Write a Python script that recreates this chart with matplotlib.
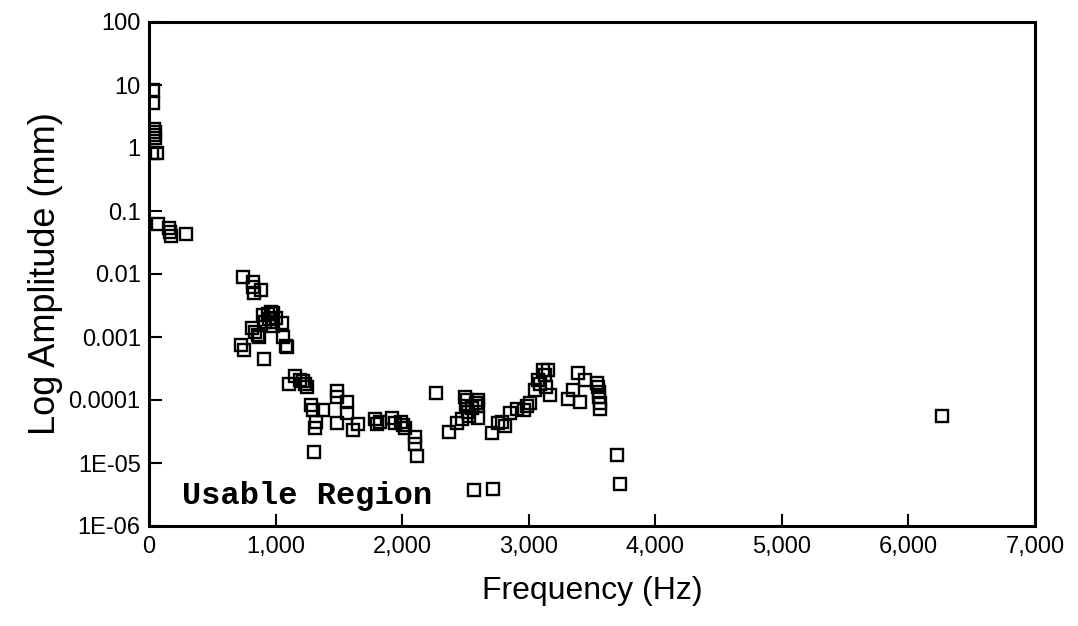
import matplotlib
matplotlib.use("Agg")
import matplotlib.pyplot as plt
from matplotlib.ticker import FixedLocator, FixedFormatter

plt.rcParams['font.family'] = ['Liberation Sans', 'DejaVu Sans']

# Frequency (Hz) and amplitude (mm)
freq_hz = [
    30, 30, 40, 45, 40, 45, 25, 60,
    70, 160, 165, 170, 290,
    743, 822, 822, 830, 885,
    900, 940, 960, 980, 916, 972, 980, 950, 1000,
    1050, 814, 837, 861, 870, 1059, 1090, 1085,
    727, 750, 908,
    1106, 1153, 1193, 1216, 1232, 1248,
    1280, 1296, 1375, 1319, 1311, 1303,
    1485, 1485, 1564, 1564, 1485, 1611, 1651,
    1785, 1801, 1825, 1920, 1943, 2007, 2022, 1990,
    2101, 2101, 2117,
    2267, 2370, 2433, 2473, 2496, 2510, 2505, 2520, 2530, 2550, 2600, 2600, 2600, 2580,
    2567, 2717,
    2710, 2757, 2812, 2790, 2852, 2907, 2960, 2986, 3010,
    3050, 3073, 3090, 3113, 3152, 3130, 3168, 3140,
    3389, 3444, 3350, 3310, 3405, 3539, 3550, 3555, 3555, 3563, 3563,
    3697, 3721, 6265,
]
amp_mm = [
    8.3, 5.2, 2.0, 1.8, 1.6, 1.45, 0.83, 0.83,
    0.062, 0.054, 0.046, 0.040, 0.043,
    0.0089, 0.0074, 0.0062, 0.0050, 0.0056,
    0.0022, 0.0023, 0.0025, 0.0024, 0.0017, 0.0017, 0.0015, 0.0019, 0.0020,
    0.00165, 0.00138, 0.0012, 0.00107, 0.0010, 0.0010, 0.00069, 0.00072,
    0.00074, 0.00062, 0.00045,
    0.000178, 0.00024, 0.00021, 0.00020, 0.000178, 0.00016,
    0.000083, 0.000069, 0.000069, 0.000045, 0.000036, 0.0000148,
    0.000138, 0.000112, 0.000093, 0.000062, 0.000043, 0.000033, 0.000042,
    0.000050, 0.000042, 0.000045, 0.000052, 0.000043, 0.000040, 0.000036, 0.000045,
    0.000026, 0.000020, 0.000013,
    0.000128, 0.000031, 0.000043, 0.000050, 0.000112, 0.00010, 0.000080, 0.000065, 0.000055, 0.000075, 0.00010, 0.000080, 0.000051, 0.000090,
    0.0000037, 0.0000038,
    0.000030, 0.000043, 0.000038, 0.000045, 0.000062, 0.000073, 0.000070, 0.000080, 0.000090,
    0.000145, 0.00021, 0.00018, 0.00030, 0.00030, 0.00025, 0.00012, 0.00016,
    0.00027, 0.00021, 0.000145, 0.000105, 0.000093, 0.000185, 0.00016, 0.000135, 0.000112, 0.000090, 0.000073,
    0.0000135, 0.0000047, 0.000056,
]

x_tick_vals = [0, 1000, 2000, 3000, 4000, 5000, 6000, 7000]
x_tick_labels = ["0", "1,000", "2,000", "3,000", "4,000", "5,000", "6,000", "7,000"]
y_ticks = [1e-6, 1e-5, 1e-4, 1e-3, 1e-2, 1e-1, 1, 10, 100]
y_tick_labels = ["1E-06", "1E-05", "0.0001", "0.001", "0.01", "0.1", "1", "10", "100"]

fig = plt.figure(figsize=(10.78, 6.26), dpi=100)
ax = fig.add_axes([149/1078, 100/626, 886/1078, 504/626])

ax.plot(freq_hz, amp_mm, linestyle='none', marker='s', markersize=9,
        markerfacecolor='none', markeredgecolor='black', markeredgewidth=1.7)

ax.set_yscale('log')
ax.set_xlim(0, 7000)
ax.set_ylim(1e-6, 100)

ax.xaxis.set_major_locator(FixedLocator(x_tick_vals))
ax.xaxis.set_major_formatter(FixedFormatter(x_tick_labels))
ax.yaxis.set_major_locator(FixedLocator(y_ticks))
ax.yaxis.set_major_formatter(FixedFormatter(y_tick_labels))
ax.yaxis.set_minor_locator(FixedLocator([]))

ax.tick_params(axis='both', which='major', direction='in', length=9, width=1.5,
               labelsize=17, colors='black')
ax.tick_params(axis='x', pad=7)
ax.tick_params(axis='y', pad=6)
ax.tick_params(top=False, right=False)

for s in ax.spines.values():
    s.set_linewidth(2.2)
    s.set_color('black')

ax.set_xlabel("Frequency (Hz)", fontsize=23, labelpad=13)
ax.set_ylabel("Log Amplitude (mm)", fontsize=26, labelpad=4)

ax.text(260, 1.75e-6, "Usable Region", family=['Liberation Mono', 'DejaVu Sans Mono'],
        fontweight='bold', fontsize=23, ha='left', va='bottom')

fig.savefig("out.png", dpi=100, facecolor='white')
